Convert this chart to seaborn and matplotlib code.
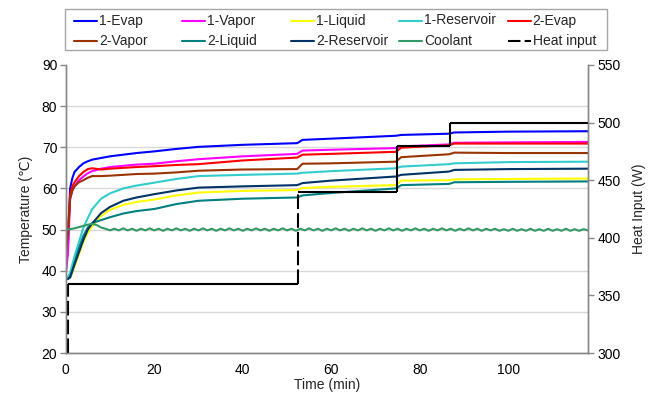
import pandas as pd
import matplotlib
matplotlib.use('Agg')
import matplotlib.pyplot as plt
from matplotlib.lines import Line2D
from matplotlib.patches import Rectangle
import seaborn as sns

# time base (min) shared by the smooth temperature traces
time_min = [0, 0.5, 1, 1.5, 2, 3, 4, 5, 6, 8, 10, 13, 16, 20, 25, 30, 40,
            52.3, 53.5, 60, 74.6, 75.8, 86.6, 87.8, 100, 118]

evap1 = [39.5, 46.0, 60.0, 62.5, 64.0, 65.2, 66.1, 66.6, 67.0, 67.4, 67.8, 68.2, 68.6, 69.0,
         69.6, 70.1, 70.6, 71.0, 71.8, 72.1, 72.8, 73.0, 73.3, 73.6, 73.8, 73.9]
vapor1 = [39.0, 44.0, 57.5, 59.5, 60.5, 62.0, 62.9, 63.7, 64.2, 64.8, 65.2, 65.5, 65.8, 66.0,
          66.6, 67.1, 67.8, 68.4, 69.2, 69.4, 69.8, 70.2, 70.7, 71.1, 71.2, 71.3]
liquid1 = [38.3, 38.3, 38.3, 39.5, 41.0, 44.0, 47.0, 49.3, 50.8, 53.3, 54.8, 56.0, 56.7, 57.3,
           58.3, 59.0, 59.4, 59.6, 60.1, 60.4, 60.8, 61.9, 62.0, 62.2, 62.3, 62.4]
reservoir1 = [38.5, 38.5, 39.5, 41.5, 43.5, 47.0, 50.5, 52.8, 55.0, 57.5, 58.8, 60.0, 60.7, 61.4,
              62.3, 63.0, 63.3, 63.6, 63.8, 64.2, 64.9, 65.3, 65.9, 66.1, 66.4, 66.5]
evap2 = [44.0, 50.0, 58.5, 60.5, 61.5, 63.0, 64.0, 64.7, 64.9, 64.6, 64.8, 65.0, 65.2, 65.4,
         65.7, 65.9, 66.8, 67.5, 68.2, 68.4, 68.9, 69.9, 70.5, 70.9, 70.9, 70.9]
vapor2 = [44.0, 49.0, 57.5, 59.5, 60.5, 61.5, 62.0, 62.6, 63.0, 63.0, 63.1, 63.3, 63.5, 63.6,
          63.9, 64.3, 64.6, 64.7, 66.0, 66.1, 66.5, 67.6, 68.3, 68.7, 68.6, 68.6]
liquid2 = [38.0, 38.0, 38.3, 40.0, 42.0, 45.5, 48.5, 50.5, 51.6, 52.3, 53.0, 53.9, 54.5, 55.0,
           56.2, 57.0, 57.5, 57.8, 58.3, 58.9, 60.0, 60.8, 61.1, 61.5, 61.6, 61.7]
reservoir2 = [38.0, 38.0, 38.5, 40.0, 41.5, 44.5, 47.5, 50.0, 51.5, 54.0, 55.5, 57.0, 57.8, 58.6,
              59.5, 60.2, 60.5, 60.8, 61.3, 61.9, 62.9, 63.3, 64.1, 64.5, 64.7, 64.8]

# coolant read every minute (0..118)
coolant = [50.0, 50.1, 50.3, 50.6, 50.9, 51.2, 51.4, 51.1, 50.5, 50.2,
           49.8, 50.2, 49.8, 50.3, 49.8, 50.2, 49.7, 50.2, 49.8, 50.3,
           49.8, 50.2, 49.7, 50.2, 49.8, 50.3, 49.8, 50.2, 49.7, 50.2,
           49.8, 50.3, 49.8, 50.2, 49.7, 50.2, 49.8, 50.3, 49.8, 50.2,
           49.7, 50.2, 49.8, 50.3, 49.8, 50.2, 49.7, 50.2, 49.8, 50.3,
           49.8, 50.2, 49.7, 50.2, 49.8, 50.3, 49.8, 50.2, 49.7, 50.2,
           49.8, 50.3, 49.8, 50.2, 49.7, 50.2, 49.8, 50.3, 49.8, 50.2,
           49.7, 50.2, 49.8, 50.3, 49.8, 50.2, 49.7, 50.2, 49.8, 50.3,
           49.8, 50.2, 49.7, 50.2, 49.8, 50.3, 49.8, 50.2, 49.7, 50.2,
           49.8, 50.3, 49.8, 50.2, 49.7, 50.2, 49.8, 50.2, 49.7, 50.1,
           49.7, 50.2, 49.7, 50.1, 49.7, 50.2, 49.7, 50.1, 49.7, 50.2,
           49.7, 50.1, 49.7, 50.2, 49.7, 50.1, 49.7, 50.1, 49.8]
coolant_time = list(range(len(coolant)))

# heat input steps
heat_time = [0.5, 52.5, 74.8, 86.8, 118]
heat_power = [360, 440, 480, 500]

names = ['1-Evap', '1-Vapor', '1-Liquid', '1-Reservoir', '2-Evap',
         '2-Vapor', '2-Liquid', '2-Reservoir', 'Coolant']
colors = ['#0000FF', '#FF00FF', '#FFFF00', '#33CCCC', '#FF0000',
          '#993300', '#008080', '#003366', '#339966']
values = [evap1, vapor1, liquid1, reservoir1, evap2, vapor2, liquid2, reservoir2]

rows = []
for name, vals in zip(names[:-1], values):
    for t, v in zip(time_min, vals):
        rows.append((name, t, v))
for t, v in zip(coolant_time, coolant):
    rows.append(('Coolant', t, v))
df = pd.DataFrame(rows, columns=['series', 'time', 'temp'])

sns.set_theme(style='white')
plt.rcParams['font.family'] = ['Liberation Sans', 'DejaVu Sans']
plt.rcParams['font.size'] = 10

W, H = 655, 397
fig = plt.figure(figsize=(W / 100, H / 100), dpi=100)
ax = fig.add_axes([0.1003, 0.1108, 0.7974, 0.7255])

sns.lineplot(data=df, x='time', y='temp', hue='series', hue_order=names,
             palette=dict(zip(names, colors)), estimator=None, sort=True,
             linewidth=1.5, legend=False, ax=ax)

ax.set_xlim(0, 118)
ax.set_ylim(20, 90)
ax.set_xticks(range(0, 101, 20))
ax.set_yticks(range(20, 91, 10))
ax.yaxis.grid(True, color='#D9D9D9', linewidth=1)
ax.get_ygridlines()[-1].set_visible(False)
ax.set_xlabel('Time (min)', fontsize=10, labelpad=1)
ax.set_ylabel('Temperature (℃)', fontsize=10, labelpad=6)

ax2 = ax.twinx()
ax2.set_ylim(300, 550)
ax2.set_yticks(range(300, 551, 50))
ax2.set_ylabel('Heat Input (W)', fontsize=10, labelpad=8)

# heat input: flat parts solid, the big jumps dashed
ax2.hlines(heat_power, heat_time[:-1], heat_time[1:], colors='black', linewidth=1.5)
prev = [300] + heat_power[:-1]
for t, lo, hi in zip(heat_time[:-1], prev, heat_power):
    ls = (0, (7, 2)) if hi - lo > 50 else '-'
    ax2.vlines(t, lo, hi, colors='black', linewidth=1.5, linestyles=[ls])

for a in (ax, ax2):
    for side in ('left', 'bottom', 'right'):
        a.spines[side].set_color('#888888')
        a.spines[side].set_linewidth(1)
    a.spines['top'].set_visible(False)
    a.tick_params(axis='both', direction='out', length=4, width=1,
                  color='#888888', labelsize=10, labelcolor='black', pad=3)
ax.tick_params(axis='y', pad=2)

# legend box laid out like the spreadsheet one: 5 evenly spaced columns, 2 rows
fig.patches.append(Rectangle((64.7 / W, 1 - 50 / H), (607 - 64.7) / W, 41 / H,
                             transform=fig.transFigure, facecolor='white',
                             edgecolor='#A6A6A6', linewidth=1, zorder=0))
leg_labels = names + ['Heat input']
leg_colors = colors + ['black']
for i, (lab, col) in enumerate(zip(leg_labels, leg_colors)):
    x0 = 74 + 108.4 * (i % 5)
    y0 = 20.5 + 20.5 * (i // 5)
    ls = (0, (6, 2)) if lab == 'Heat input' else '-'
    fig.add_artist(Line2D([x0 / W, (x0 + 23) / W], [1 - y0 / H, 1 - y0 / H],
                          transform=fig.transFigure, color=col, linewidth=1.5,
                          linestyle=ls))
    fig.text((x0 + 25) / W, 1 - y0 / H, lab, fontsize=10, va='center', ha='left')

fig.savefig('out.png', dpi=100)
